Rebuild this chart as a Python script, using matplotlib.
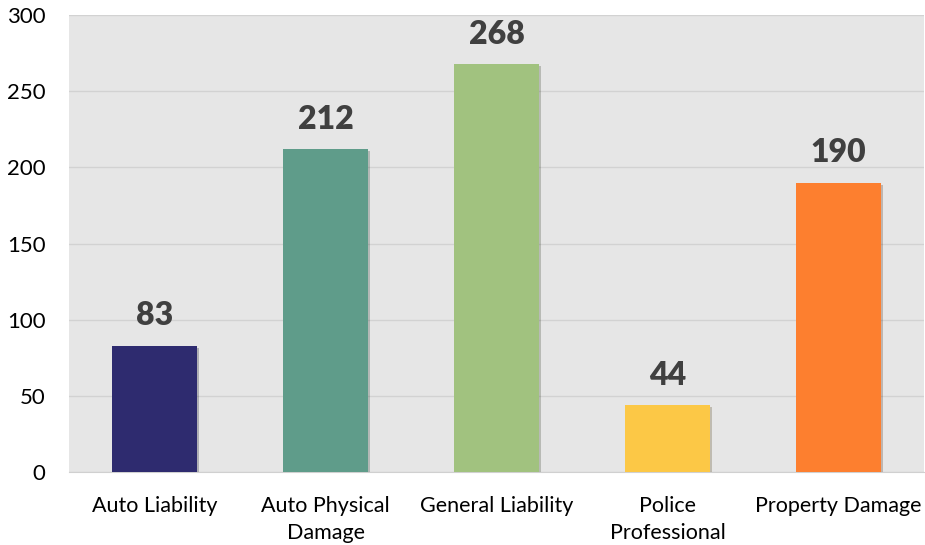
import matplotlib
matplotlib.use("Agg")
import matplotlib.pyplot as plt
import matplotlib.patheffects as pe

categories = ["Auto Liability", "Auto Physical\nDamage", "General Liability",
              "Police\nProfessional", "Property Damage"]
counts = [83, 212, 268, 44, 190]
bar_colors = ["#2e2b6f", "#5f9c8a", "#a1c27f", "#fcc846", "#fd7f2f"]
y_ticks = [0, 50, 100, 150, 200, 250, 300]

plt.rcParams["font.family"] = ["Lato", "DejaVu Sans"]

fig = plt.figure(figsize=(9.25, 5.45), dpi=100)
ax = fig.add_axes([0.0746, 0.134, 0.9244, 0.838])
ax.set_facecolor("#e6e6e6")

x = range(len(categories))
bars = ax.bar(x, counts, width=0.5, color=bar_colors, zorder=3)
for b in bars:
    b.set_path_effects([pe.SimplePatchShadow(offset=(1.5, -1.5), alpha=0.25), pe.Normal()])

for xi, v in zip(x, counts):
    ax.annotate(str(v), (xi, v), xytext=(0, 11), textcoords="offset points",
                ha="center", va="bottom", fontsize=23, fontweight="heavy", color="#404040")

ax.set_xlim(-0.5, len(categories) - 0.5)
ax.set_ylim(0, 300)
ax.set_yticks(y_ticks)
ax.set_xticks(list(x))
ax.set_xticklabels(categories, linespacing=1.45)
ax.tick_params(axis="both", length=0, labelsize=15.5, colors="#000000")
ax.tick_params(axis="y", labelsize=16, pad=17)
ax.tick_params(axis="x", pad=17)

ax.grid(axis="y", color="#d2d2d2", linewidth=1, zorder=0)
for side in ["top", "right", "left"]:
    ax.spines[side].set_visible(False)
ax.spines["bottom"].set_color("#d0d0d0")

fig.savefig("out.png", dpi=100)
